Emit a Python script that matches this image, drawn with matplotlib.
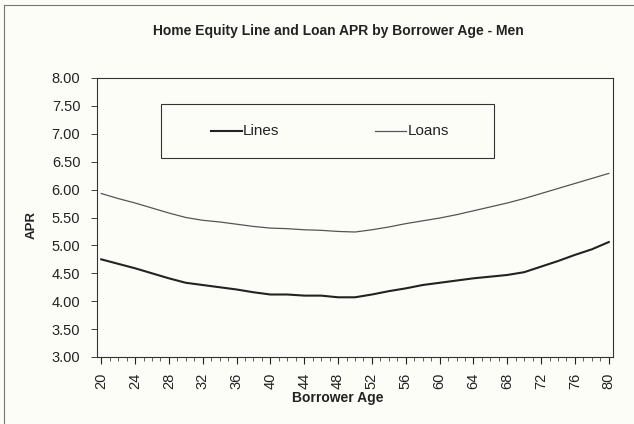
import matplotlib
matplotlib.use("Agg")
import matplotlib.pyplot as plt
from matplotlib.ticker import MultipleLocator, FormatStrFormatter
from matplotlib.lines import Line2D
from matplotlib.patches import Rectangle

ages = [20, 22, 24, 26, 28, 30, 32, 34, 36, 38, 40, 42, 44, 46, 48, 50,
        52, 54, 56, 58, 60, 62, 64, 66, 68, 70, 72, 74, 76, 78, 80]
lines_apr = [4.75, 4.67, 4.59, 4.50, 4.41, 4.33, 4.29, 4.25, 4.21, 4.16, 4.12,
             4.12, 4.10, 4.10, 4.07, 4.07, 4.12, 4.18, 4.23, 4.29, 4.33, 4.37,
             4.41, 4.44, 4.47, 4.52, 4.62, 4.72, 4.83, 4.93, 5.06]
loans_apr = [5.93, 5.84, 5.76, 5.67, 5.58, 5.50, 5.45, 5.42, 5.38, 5.34, 5.31,
             5.30, 5.28, 5.27, 5.25, 5.24, 5.28, 5.33, 5.39, 5.44, 5.49, 5.55,
             5.62, 5.69, 5.76, 5.84, 5.93, 6.02, 6.11, 6.20, 6.29]
series_names = ["Lines", "Loans"]
title = "Home Equity Line and Loan APR by Borrower Age - Men"
xlabel = "Borrower Age"
ylabel = "APR"

plt.rcParams['font.family'] = ['Liberation Sans', 'DejaVu Sans']
bg = '#fdfdf8'
W, H = 634, 424
fig = plt.figure(figsize=(6.34, 4.24), dpi=100, facecolor=bg)
ax = fig.add_axes([97/W, 1-357/H, (613-97)/W, (357-78)/H])
ax.set_facecolor(bg)

styles = [dict(color='#222222', lw=1.5), dict(color='#555555', lw=0.9)]
ax.plot(ages, lines_apr, **styles[0])
ax.plot(ages, loans_apr, **styles[1])

ax.set_xlim(19.5, 80.5)
ax.set_ylim(3.0, 8.0)
ax.xaxis.set_major_locator(MultipleLocator(4))
ax.xaxis.set_minor_locator(MultipleLocator(1))
ax.yaxis.set_major_locator(MultipleLocator(0.5))
ax.yaxis.set_major_formatter(FormatStrFormatter('%.2f'))
ax.tick_params(axis='x', which='major', direction='out', length=5, width=0.8,
               labelrotation=90, labelsize=10.5, pad=6, colors='#222222')
ax.tick_params(axis='x', which='minor', direction='out', length=3, width=0.6, colors='#444444')
ax.tick_params(axis='y', which='major', direction='out', length=4, width=0.6,
               labelsize=10.5, pad=8, colors='#222222')
for s in ax.spines.values():
    s.set_color('#333333')
    s.set_linewidth(0.8)

fig.text(338/W, 1-398/H, xlabel, ha='center', va='center', fontsize=10,
         fontweight='bold', color='#222222')
fig.text(32/W, 1-225/H, ylabel, ha='center', va='center', fontsize=9.5,
         fontweight='bold', color='#222222', rotation=90)
fig.text(338/W, 1-31/H, title, ha='center', va='center', fontsize=10,
         fontweight='bold', color='#222222')

# legend box (manual, in figure pixel coordinates)
fig.add_artist(Rectangle((161/W, 1-158/H), (494-161)/W, (158-104)/H,
                         transform=fig.transFigure, fill=False,
                         edgecolor='#333333', lw=0.8))
leg_items = [(211, 242, 243), (375, 406, 408)]
for (x0, x1, xt), name, st in zip(leg_items, series_names, styles):
    fig.add_artist(Line2D([x0/W, x1/W], [1-131/H, 1-131/H],
                          transform=fig.transFigure, **st))
    fig.text(xt/W, 1-131/H, name, ha='left', va='center', fontsize=11,
             color='#222222')

# outer frame
fig.add_artist(Line2D([4/W, 4/W], [0, 1-5/H], transform=fig.transFigure, color='#777777', lw=0.8))
fig.add_artist(Line2D([4/W, 1], [1-5/H, 1-5/H], transform=fig.transFigure, color='#777777', lw=0.8))

fig.savefig('out.png', dpi=100, facecolor=bg)
